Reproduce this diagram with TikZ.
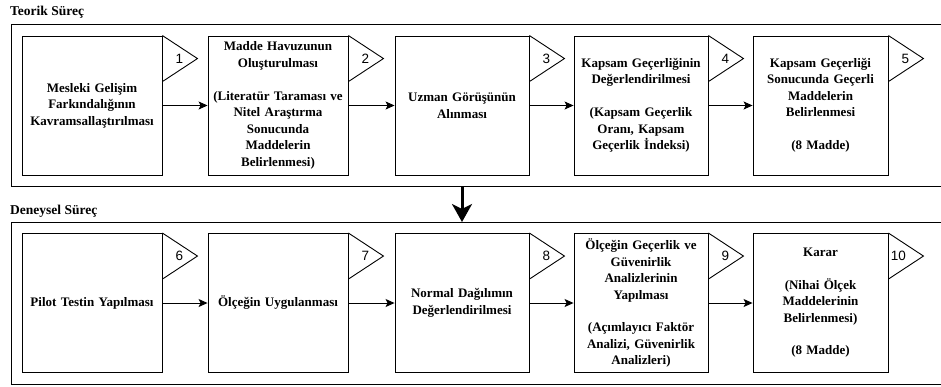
\documentclass[tikz,border=0pt]{standalone}
\usepackage{fontspec}
\setmainfont{Liberation Serif}
\newfontfamily\numfont{Liberation Sans}
\usetikzlibrary{arrows.meta}
\tikzset{
  box/.style={draw, line width=0.9pt, inner sep=0pt, minimum height=139, align=center,
    font=\bfseries\fontsize{13}{16.5}\selectfont},
  wbox/.style={box, minimum width=140, text width=136},
  nbox/.style={box, minimum width=134, text width=132},
  frame/.style={draw, line width=1.3pt, inner sep=0pt, minimum width=960, minimum height=162, anchor=north west},
  title/.style={anchor=west, inner sep=0pt, font=\bfseries\fontsize{13.5}{15}\selectfont},
  flag/.style={draw, line width=0.9pt, line join=miter},
  num/.style={inner sep=0pt, font=\numfont\fontsize{13.5}{13.5}\selectfont},
  arr/.style={draw, line width=1pt, -{Stealth[length=9pt,width=8pt,inset=2pt]}},
  bigarr/.style={draw, line width=3pt, -{Stealth[length=18pt,width=20pt,inset=5pt]}}
}
\begin{document}
\begin{tikzpicture}[x=1pt,y=-1pt]
\clip (0,0) rectangle (941,386);
\fill[white] (0,0) rectangle (941,386);
% titles and frames
\node[title] (t1) at (10,12) {Teorik Süreç};
\node[title] (t2) at (10,211) {Deneysel Süreç};
\node[frame] (f1) at (11,24) {};
\node[frame] (f2) at (11,222) {};
% top row
\node[wbox] (b1) at (92,105.5) {Mesleki Gelişim\\Farkındalığının\\Kavramsallaştırılması};
\node[wbox] (b2) at (278,105.5) {Madde Havuzunun\\Oluşturulması\\[16.5pt](Literatür Taraması ve\\Nitel Araştırma\\Sonucunda\\Maddelerin\\Belirlenmesi)};
\node[nbox] (b3) at (462,105.5) {Uzman Görüşünün\\Alınması};
\node[nbox] (b4) at (641,105.5) {Kapsam Geçerliğinin\\Değerlendirilmesi\\[16.5pt](Kapsam Geçerlik\\Oranı, Kapsam\\Geçerlik İndeksi)};
\node[nbox, minimum width=135] (b5) at (820.5,105.5) {Kapsam Geçerliği\\Sonucunda Geçerli\\Maddelerin\\Belirlenmesi\\[16.5pt](8 Madde)};
% bottom row
\node[wbox] (b6) at (92,303) {Pilot Testin Yapılması};
\node[wbox] (b7) at (278,303) {Ölçeğin Uygulanması};
\node[nbox] (b8) at (462,303) {Normal Dağılımın\\Değerlendirilmesi};
\node[nbox] (b9) at (641,303) {Ölçeğin Geçerlik ve\\Güvenirlik\\Analizlerinin\\Yapılması\\[16pt](Açımlayıcı Faktör\\Analizi, Güvenirlik\\Analizleri)};
\node[nbox, minimum width=135] (b10) at (820.5,303) {Karar\\[16pt](Nihai Ölçek\\Maddelerinin\\Belirlenmesi)\\[16pt](8 Madde)};
% flags and numbers
\foreach \b/\n/\o in {b1/1/17,b2/2/17,b3/3/17,b4/4/17,b5/5/17,b6/6/17,b7/7/17,b8/8/17,b9/9/17,b10/10/10}{
  \draw[flag] (\b.north east) -- ++(35,23) -- ++(-35,23);
  \node[num] (n\n) at ([shift={(\o,23)}]\b.north east) {\n};
}
% connectors
\draw[arr] (b1) -- (b2);
\draw[arr] (b2) -- (b3);
\draw[arr] (b3) -- (b4);
\draw[arr] (b4) -- (b5);
\draw[arr] (b6) -- (b7);
\draw[arr] (b7) -- (b8);
\draw[arr] (b8) -- (b9);
\draw[arr] (b9) -- (b10);
\coordinate (ax) at (462,0);
\draw[bigarr] (f1.south -| ax) -- (f2.north -| ax);
\end{tikzpicture}
\end{document}
